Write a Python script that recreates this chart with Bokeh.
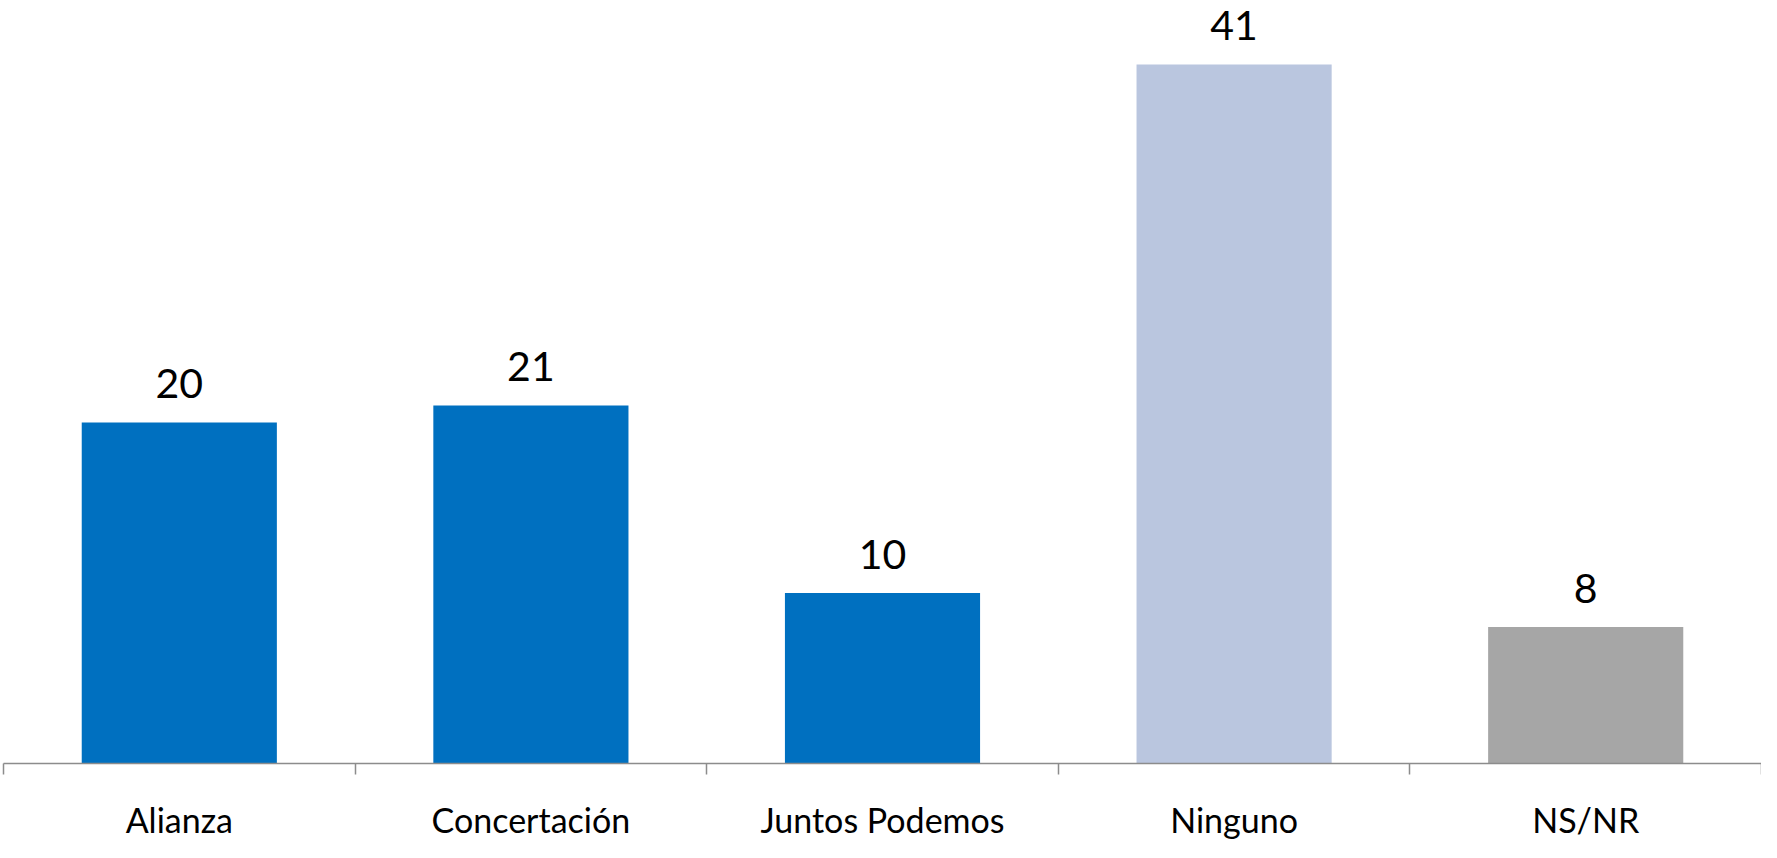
from bokeh.plotting import figure
from bokeh.models import Range1d, FixedTicker, ColumnDataSource, LinearAxis
from bokeh.embed import file_html
from bokeh.resources import INLINE
from bokeh.core.properties import value

categories = ["Alianza", "Concertación", "Juntos Podemos", "Ninguno", "NS/NR"]
values = [20, 21, 10, 41, 8]
colors = ["#0070C0", "#0070C0", "#0070C0", "#BAC6DF", "#A6A6A6"]

centers = [i + 0.5 for i in range(len(categories))]
bounds = [float(i) for i in range(len(categories) + 1)]

src = ColumnDataSource(dict(x=centers, top=values, color=colors,
                            label=[str(v) for v in values]))

p = figure(width=1761, height=842, output_backend="svg", toolbar_location=None,
           x_range=Range1d(0, len(categories)), y_range=Range1d(0, 44.75),
           x_axis_location=None, y_axis_location=None,
           min_border_left=3, min_border_right=0, min_border_top=0, min_border_bottom=79)
p.grid.visible = False
p.outline_line_color = None
p.background_fill_color = "white"
p.border_fill_color = "white"

p.vbar(x="x", top="top", bottom=0, width=0.555, color="color", line_color=None, source=src)
p.text(x="x", y="top", text="label", source=src, text_align="center",
       text_baseline="bottom", y_offset=-24, text_font=value("Lato"),
       text_font_size="41px", text_color="black")

ax = LinearAxis(ticker=FixedTicker(ticks=centers, minor_ticks=bounds))
ax.major_label_overrides = {c: lab for c, lab in zip(centers, categories)}
ax.major_tick_line_color = None
ax.major_tick_out = 0
ax.major_tick_in = 0
ax.minor_tick_line_color = "#8C8C8C"
ax.minor_tick_line_width = 1.5
ax.minor_tick_in = 0
ax.minor_tick_out = 11
ax.axis_line_color = "#8C8C8C"
ax.axis_line_width = 1.5
ax.major_label_standoff = 24
ax.major_label_text_font = "Lato"
ax.major_label_text_font_size = "34px"
ax.major_label_text_color = "black"
p.add_layout(ax, "below")

open("out.html", "w").write(file_html(p, INLINE))
